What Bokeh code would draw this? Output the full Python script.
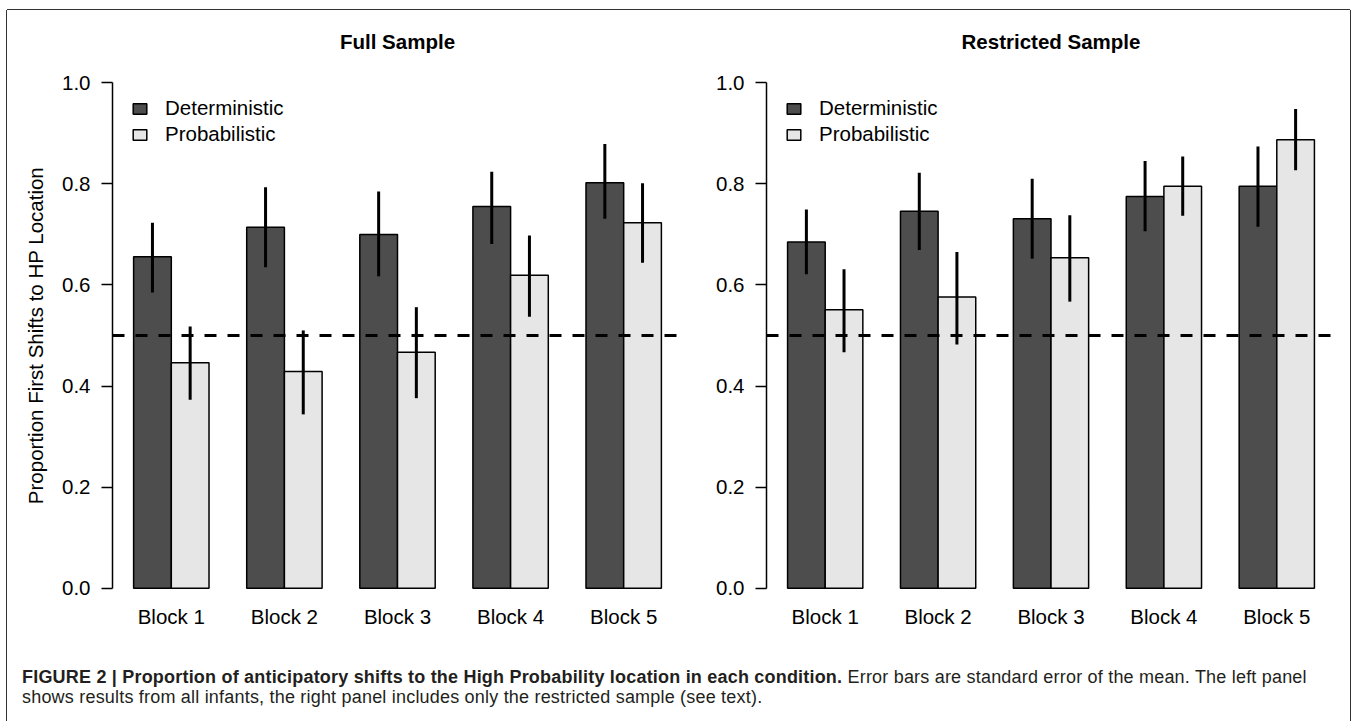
from bokeh.plotting import figure
from bokeh.layouts import column, row
from bokeh.models import (Span, Legend, LegendItem, FixedTicker, NumeralTickFormatter, Div)
from bokeh.embed import file_html
from bokeh.resources import INLINE
import numpy as np

# ---- data ---------------------------------------------------------------
blocks = ["Block 1", "Block 2", "Block 3", "Block 4", "Block 5"]
series_names = ["Deterministic", "Probabilistic"]
y_ticks = [0.0, 0.2, 0.4, 0.6, 0.8, 1.0]
chance_level = 0.5

# Full sample: means and standard-error bar limits
full_det = [0.656, 0.714, 0.700, 0.755, 0.802]
full_det_lo = [0.585, 0.635, 0.617, 0.681, 0.731]
full_det_hi = [0.723, 0.793, 0.785, 0.824, 0.879]
full_prob = [0.446, 0.429, 0.467, 0.619, 0.723]
full_prob_lo = [0.373, 0.344, 0.376, 0.537, 0.644]
full_prob_hi = [0.518, 0.510, 0.556, 0.698, 0.801]

# Restricted sample
rest_det = [0.685, 0.746, 0.731, 0.775, 0.795]
rest_det_lo = [0.621, 0.669, 0.652, 0.706, 0.715]
rest_det_hi = [0.749, 0.822, 0.810, 0.845, 0.874]
rest_prob = [0.551, 0.576, 0.654, 0.795, 0.887]
rest_prob_lo = [0.467, 0.482, 0.567, 0.737, 0.827]
rest_prob_hi = [0.631, 0.665, 0.738, 0.854, 0.948]

DARK = "#4d4d4d"
LIGHT = "#e6e6e6"
FONT = "Liberation Sans"
FS = "20.5px"

# barplot-style positions: bars of width 1, one bar of space between groups
idx = np.arange(len(blocks))
group_centers = 3 * idx + 2
x_det = group_centers - 0.5
x_prob = group_centers + 0.5


def panel(title, det, det_lo, det_hi, prob, prob_lo, prob_hi, width,
          border_left, border_right, show_ylabel):
    p = figure(width=width, height=630, output_backend="svg",
               toolbar_location=None, title=title,
               x_range=(0.44, 15.56), y_range=(-0.04, 1.04),
               min_border_left=border_left, min_border_right=border_right,
               min_border_top=52, min_border_bottom=32)
    p.title.align = "center"
    p.title.text_font = FONT
    p.title.text_font_size = FS
    p.title.text_font_style = "bold"
    p.title.text_color = "black"
    p.title.standoff = 20
    p.outline_line_color = None
    p.xgrid.grid_line_color = None
    p.ygrid.grid_line_color = None
    p.background_fill_color = "white"
    p.border_fill_color = "white"

    r_det = p.vbar(x=x_det, top=det, bottom=0, width=1.0, fill_color=DARK,
                   line_color="black", line_width=1.5)
    r_prob = p.vbar(x=x_prob, top=prob, bottom=0, width=1.0, fill_color=LIGHT,
                    line_color="black", line_width=1.5)

    p.add_layout(Span(location=chance_level, dimension="width",
                      line_color="black", line_width=3, line_dash="12 11"))

    p.segment(x0=x_det, x1=x_det, y0=det_lo, y1=det_hi,
              line_color="black", line_width=3)
    p.segment(x0=x_prob, x1=x_prob, y0=prob_lo, y1=prob_hi,
              line_color="black", line_width=3)

    # y axis: only spans 0..1
    ya = p.yaxis[0]
    ya.bounds = (0, 1)
    ya.ticker = FixedTicker(ticks=y_ticks)
    ya.formatter = NumeralTickFormatter(format="0.0")
    ya.minor_tick_line_color = None
    ya.major_tick_out = 11
    ya.major_tick_in = 0
    ya.major_label_standoff = 11
    ya.axis_line_width = 1.5
    ya.major_tick_line_width = 1.5
    ya.major_label_text_font = FONT
    ya.major_label_text_font_size = FS
    ya.major_label_text_color = "black"
    if show_ylabel:
        ya.axis_label = "Proportion First Shifts to HP Location"
        ya.axis_label_text_font = FONT
        ya.axis_label_text_font_size = FS
        ya.axis_label_text_font_style = "normal"
        ya.axis_label_text_color = "black"
        ya.axis_label_standoff = 12

    # x axis: block names under each pair, no line or ticks
    xa = p.xaxis[0]
    xa.ticker = FixedTicker(ticks=list(group_centers))
    xa.major_label_overrides = {int(c): b for c, b in zip(group_centers, blocks)}
    xa.axis_line_color = None
    xa.major_tick_line_color = None
    xa.minor_tick_line_color = None
    xa.major_tick_out = 0
    xa.major_tick_in = 0
    xa.minor_tick_out = 0
    xa.major_label_standoff = -4
    xa.major_label_text_font = FONT
    xa.major_label_text_font_size = FS
    xa.major_label_text_color = "black"

    legend = Legend(items=[LegendItem(label=series_names[0], renderers=[r_det]),
                           LegendItem(label=series_names[1], renderers=[r_prob])],
                    location=(19, 462), padding=0, margin=0, spacing=2,
                    glyph_width=17, glyph_height=13, label_standoff=17,
                    label_text_font=FONT, label_text_font_size=FS,
                    label_text_color="black",
                    border_line_alpha=0, background_fill_alpha=0)
    p.add_layout(legend)
    return p


p1 = panel("Full Sample", full_det, full_det_lo, full_det_hi,
           full_prob, full_prob_lo, full_prob_hi,
           width=683, border_left=105, border_right=8, show_ylabel=True)
p2 = panel("Restricted Sample", rest_det, rest_det_lo, rest_det_hi,
           rest_prob, rest_prob_lo, rest_prob_hi,
           width=660, border_left=76, border_right=15, show_ylabel=False)

caption = Div(
    text=(
        '<div style="font-family: \'Liberation Sans\', Arial, sans-serif; '
        'font-size: 18px; line-height: 19.5px; color: #231f20; letter-spacing: 0.2px; '
        'padding-left: 15px; padding-top: 28px; white-space: nowrap;">'
        '<b>FIGURE 2 | Proportion of anticipatory shifts to the High Probability '
        'location in each condition.</b> Error bars are standard error of the mean. '
        'The left panel<br>shows results from all infants, the right panel includes '
        'only the restricted sample (see text).</div>'
    ),
    width=1343, height=81, margin=0)

root = column(row(p1, p2, margin=0), caption, margin=(10, 0, 0, 7),
              styles={"box-shadow": "0 -1px 0 #333, -1px 0 0 #333, 1px 0 0 #333"})

with open("out.html", "w") as f:
    f.write(file_html(root, INLINE))
